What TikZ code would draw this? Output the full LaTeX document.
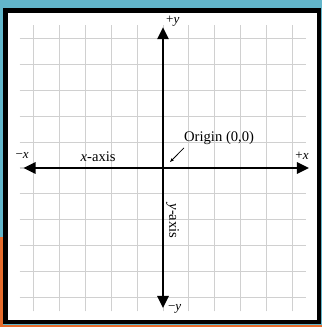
\documentclass[tikz,border=0pt]{standalone}
\usepackage{fontspec}
\setmainfont{Liberation Serif}
\usetikzlibrary{arrows.meta,positioning}
\definecolor{skyband}{RGB}{98,182,203}
\definecolor{rustband}{RGB}{230,108,44}
\definecolor{gridgray}{RGB}{208,208,208}

\begin{document}
\begin{tikzpicture}[x=0.9cm,y=0.9cm,>={Triangle[length=12pt,width=11pt]},
  gridline/.style={gridgray,line width=1pt},
  axis/.style={<->,line width=2.4pt},
  lbl/.style={inner sep=0pt,font=\fontsize{14.5}{16}\selectfont},
  tick/.style={inner sep=0pt,font=\fontsize{13}{15}\selectfont}]
% background and frame
\fill[skyband] (-6.306,-6.151) rectangle (6.151,6.499);
\useasboundingbox (-6.306,-6.151) rectangle (6.151,6.499);
\fill[rustband] (-6.306,-6.151) rectangle (-6.19,-2.67);
\fill[rustband] (-6.306,-6.151) rectangle (6.151,-6.07);
\draw[line width=4.5pt,fill=white] (-6.09,-5.96) rectangle (6.03,6.09);
% grid
\foreach \k in {-5,...,5}{
  \draw[gridline] (\k,-5.55) -- (\k,5.55);
  \draw[gridline] (-5.55,\k) -- (5.55,\k);}
% axes
\coordinate (O) at (0,0);
\coordinate (xl) at (-5.4,0); \coordinate (xr) at (5.65,0);
\coordinate (yt) at (0,5.45); \coordinate (yb) at (0,-5.42);
\draw[axis] (xl) -- (xr);
\draw[axis] (yb) -- (yt);
% labels
\node[tick] (ytop) at (0.38,5.69) {+\textit{y}};
\node[tick] (ybot) at (0.45,-5.45) {−\textit{y}};
\node[tick] (xneg) at (-5.45,0.5) {−\textit{x}};
\node[tick] (xpos) at (5.38,0.46) {+\textit{x}};
\node[lbl] (xname) at (-2.51,0.43) {\textit{x}-axis};
\node[lbl,rotate=-90] (yname) at (0.37,-2.05) {\textit{y}-axis};
\node[lbl] (orglbl) at (2.17,1.16) {Origin (0,0)};
\coordinate (otip) at (0.27,0.23);
\draw[-{Stealth[length=4pt]},line width=0.8pt] ([yshift=-3pt]orglbl.south west) -- (otip);
\end{tikzpicture}
\end{document}
